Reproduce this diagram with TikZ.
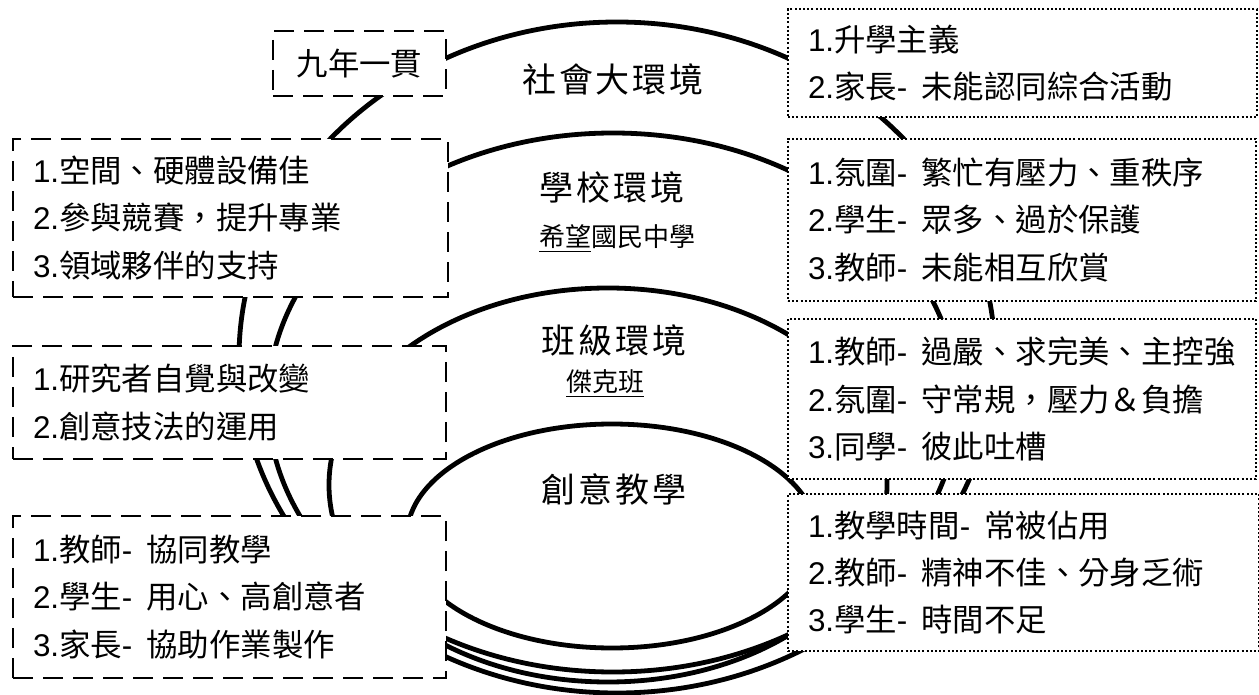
\documentclass[tikz,border=0pt]{standalone}
\usepackage{fontspec}
\setmainfont{Liberation Sans}
\newfontfamily\cjk{Noto Sans CJK TC}
\newfontfamily\ttlfont[LetterSpace=8]{Noto Sans CJK TC}
\newfontfamily\lat{Liberation Sans}
\newcommand\Nm[1]{{\lat #1.}}
\newcommand\Hy{{\lat -}\hspace{0.45em}}
\begin{document}
\begin{tikzpicture}[x=0.5pt,y=-0.5pt,
  ring/.style={line width=2.4pt},
  boxbase/.style={fill=white, line width=1pt, anchor=north west, align=left,
     inner xsep=10pt, inner ysep=0pt,
     font=\cjk\fontsize{15.7}{23.7}\selectfont},
  dashbox/.style={boxbase, draw, dash pattern=on 10pt off 5pt},
  dotbox/.style={boxbase, draw, dash pattern=on 1pt off 1.1pt},
  ttl/.style={font=\ttlfont\fontsize{17}{17}\selectfont, inner sep=0pt},
  sub/.style={font=\cjk\fontsize{13}{13}\selectfont, inner sep=0pt}
]
\useasboundingbox (0,0) rectangle (1259,695);
% nested ellipses
\draw[ring] (617,357.5) ellipse [x radius=189pt, y radius=167.75pt];
\draw[ring] (613,402.5) ellipse [x radius=172.5pt, y radius=134.75pt];
\draw[ring] (608,485) ellipse [x radius=139.5pt, y radius=98.5pt];
\draw[ring] (612,536) ellipse [x radius=102.5pt, y radius=56pt];
% titles
\node[ttl] (t1) at (613,80) {社會大環境};
\node[ttl] (t2) at (612,188) {學校環境};
\node[sub] (s2) at (617,239) {\underline{希望}國民中學};
\node[ttl] (t3) at (614,341) {班級環境};
\node[sub] (s3) at (605,384) {\underline{傑克班}};
\node[ttl] (t4) at (614,489) {創意教學};
% left boxes (dashed)
\node[dashbox, align=center, inner xsep=0pt, minimum width=86.5pt, minimum height=32.5pt] (nine) at (272,30) {九年一貫};
\node[dashbox, minimum width=217.5pt, text width=197.5pt, minimum height=79pt] (lb1) at (12,138)
  {\Nm1空間、硬體設備佳\\ \Nm2參與競賽，提升專業\\ \Nm3領域夥伴的支持};
\node[dashbox, minimum width=216.5pt, text width=196.5pt, minimum height=56.5pt] (lb2) at (12,345)
  {\Nm1研究者自覺與改變\\ \Nm2創意技法的運用};
\node[dashbox, minimum width=216.5pt, text width=196.5pt, minimum height=81pt] (lb3) at (12,515)
  {\Nm1教師\Hy 協同教學\\ \Nm2學生\Hy 用心、高創意者\\ \Nm3家長\Hy 協助作業製作};
% right boxes (dotted)
\node[dotbox, minimum width=234.5pt, text width=214.5pt, minimum height=54pt] (rb1) at (787,8)
  {\Nm1升學主義\\ \Nm2家長\Hy 未能認同綜合活動};
\node[dotbox, minimum width=234pt, text width=214pt, minimum height=81pt] (rb2) at (787,138)
  {\Nm1氛圍\Hy 繁忙有壓力、重秩序\\ \Nm2學生\Hy 眾多、過於保護\\ \Nm3教師\Hy 未能相互欣賞};
\node[dotbox, minimum width=234pt, text width=214pt, minimum height=80pt] (rb3) at (787,318)
  {\Nm1教師\Hy 過嚴、求完美、主控強\\ \Nm2氛圍\Hy 守常規，壓力＆負擔\\ \Nm3同學\Hy 彼此吐槽};
\node[dotbox, minimum width=235.5pt, text width=215.5pt, minimum height=78.5pt] (rb4) at (787,493)
  {\Nm1教學時間\Hy 常被佔用\\ \Nm2教師\Hy 精神不佳、分身乏術\\ \Nm3學生\Hy 時間不足};
\end{tikzpicture}
\end{document}
